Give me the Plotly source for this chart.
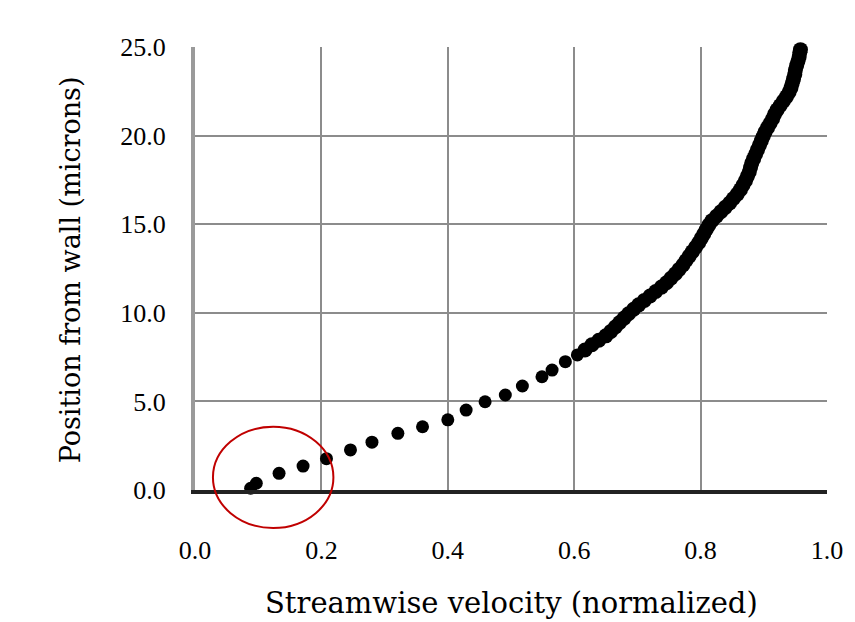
import plotly.graph_objects as go

# Discrete (resolved) points near the wall
x_sparse = [0.088, 0.097, 0.133, 0.171, 0.208, 0.246, 0.280, 0.321, 0.360, 0.400,
            0.429, 0.459, 0.491, 0.518, 0.549, 0.565, 0.586, 0.605]
y_sparse = [0.10, 0.38, 0.94, 1.35, 1.77, 2.26, 2.70, 3.20, 3.57, 3.96,
            4.51, 4.98, 5.36, 5.87, 6.39, 6.77, 7.24, 7.62]

# Dense measured points further from the wall
y_dense = [7.9, 8.2, 8.45, 8.7, 8.95, 9.2, 9.45, 9.7, 9.95, 10.2, 10.45, 10.7, 10.95,
           11.2, 11.45, 11.7, 11.95, 12.2, 12.45, 12.7, 12.95, 13.2, 13.45, 13.7, 13.95,
           14.2, 14.45, 14.7, 14.95, 15.2, 15.45, 15.7, 15.95, 16.2, 16.45, 16.7, 16.95,
           17.2, 17.45, 17.7, 17.95, 18.2, 18.45, 18.7, 18.95, 19.2, 19.45, 19.7, 19.95,
           20.2, 20.45, 20.7, 20.95, 21.2, 21.45, 21.7, 21.95, 22.2, 22.45, 22.7, 22.95,
           23.2, 23.45, 23.7, 23.95, 24.2, 24.45, 24.7, 24.85]
x_dense = [0.617, 0.628, 0.639, 0.650, 0.658, 0.665, 0.672, 0.679, 0.686, 0.694, 0.702, 0.711, 0.720,
           0.729, 0.738, 0.746, 0.753, 0.760, 0.766, 0.772, 0.777, 0.782, 0.787, 0.792, 0.797,
           0.801, 0.805, 0.809, 0.813, 0.818, 0.825, 0.832, 0.839, 0.846, 0.852, 0.858, 0.863,
           0.867, 0.871, 0.874, 0.877, 0.879, 0.881, 0.884, 0.887, 0.890, 0.893, 0.896, 0.899,
           0.902, 0.906, 0.910, 0.914, 0.917, 0.921, 0.926, 0.931, 0.936, 0.940, 0.943, 0.945,
           0.947, 0.949, 0.950, 0.952, 0.954, 0.956, 0.957, 0.958]

x_ticks = [0.0, 0.2, 0.4, 0.6, 0.8, 1.0]
x_ticktext = ["0.0", "0.2", "0.4", "0.6", "0.8", "1.0"]
y_ticks = [0, 5, 10, 15, 20, 25]
y_ticktext = ["0.0", "5.0", "10.0", "15.0", "20.0", "25.0"]

x_title = "Streamwise velocity (normalized)"
y_title = "Position from wall (microns)"

fig = go.Figure()
fig.add_trace(go.Scatter(x=x_sparse, y=y_sparse, mode="markers",
                         marker=dict(symbol="circle", size=13, color="black",
                                     line=dict(width=0)),
                         cliponaxis=False, showlegend=False))
fig.add_trace(go.Scatter(x=x_dense, y=y_dense, mode="markers",
                         marker=dict(symbol="circle", size=15, color="black",
                                     line=dict(width=0)),
                         cliponaxis=False, showlegend=False))

tick_font = dict(family="Liberation Serif", size=26, color="black")
xtitle_font = dict(family="DejaVu Serif", size=29, color="black")
ytitle_font = dict(family="DejaVu Serif", size=27, color="black")

fig.update_layout(
    width=855, height=622,
    margin=dict(l=195, r=26, t=47, b=132),
    paper_bgcolor="white", plot_bgcolor="white",
    xaxis=dict(range=[0, 1], tickmode="array", tickvals=x_ticks, ticktext=x_ticktext,
               showgrid=True, gridcolor="#8c8c8c", gridwidth=2, zeroline=False,
               showline=True, linecolor="#222222", linewidth=4,
               ticks="", ticklabelstandoff=34, tickfont=tick_font),
    yaxis=dict(range=[0, 25], tickmode="array", tickvals=y_ticks, ticktext=y_ticktext,
               showgrid=True, gridcolor="#8c8c8c", gridwidth=2, zeroline=False,
               showline=True, linecolor="#9a9a9a", linewidth=4,
               ticks="", ticklabelstandoff=20, tickfont=tick_font),
    annotations=[
        dict(text=x_title, xref="paper", yref="paper", x=0.5, y=-0.255,
             xanchor="center", yanchor="middle", showarrow=False, font=xtitle_font),
        dict(text=y_title, xref="paper", yref="paper", x=-0.197, y=0.497,
             xanchor="center", yanchor="middle", textangle=-90, showarrow=False,
             font=ytitle_font),
    ],
    shapes=[
        dict(type="circle", xref="paper", yref="paper",
             x0=0.0284, x1=0.219, y0=-0.0858, y1=0.1429,
             line=dict(color="#c00000", width=2), layer="above"),
    ],
)

fig.write_html("out.html")
